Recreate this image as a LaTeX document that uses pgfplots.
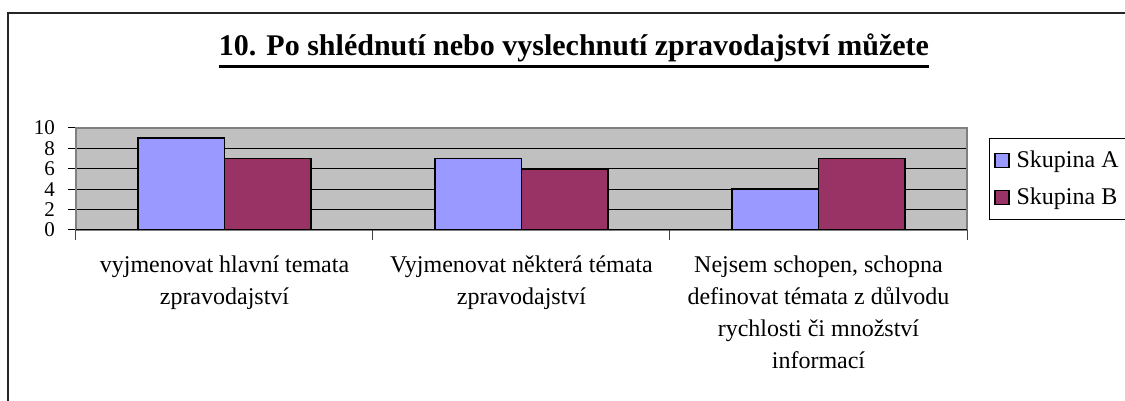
\documentclass[border=0pt]{standalone}
\usepackage{fontspec}
\setmainfont{Liberation Serif}
\usepackage{pgfplots}
\pgfplotsset{compat=1.18}
\definecolor{grpA}{HTML}{9999FF}
\definecolor{grpB}{HTML}{993366}
\definecolor{plotbg}{HTML}{C0C0C0}
\definecolor{boxgray}{HTML}{808080}

\begin{document}
\begin{tikzpicture}
\path[use as bounding box] (0,0) rectangle (562.5pt,200.5pt);
% outer chart frame (cut off at right and bottom)
\draw[line width=0.6pt,black!85] (4pt,-2pt) -- (4pt,194pt) -- (565pt,194pt);
\node[font=\fontsize{15}{17}\selectfont\bfseries,anchor=base,inner sep=0pt] (ttl)
  at (287pt,172.5pt) {10. Po shlédnutí nebo vyslechnutí zpravodajství můžete};
\draw[line width=1.5pt] ([yshift=-5.5pt]ttl.base west) -- ([yshift=-5.5pt]ttl.base east);

\begin{axis}[
  at={(38pt,85.5pt)},anchor=south west,
  scale only axis,width=445.5pt,height=51pt,
  xmin=-0.5,xmax=2.5,ymin=0,ymax=10,
  axis background/.style={fill=plotbg},
  axis line style={boxgray,line width=0.8pt},
  ybar,bar width=0.29,
  ytick={0,2,...,10},
  ymajorgrids,major grid style={black,line width=0.5pt},
  tick align=outside,major tick length=4pt,
  ytick pos=left,xtick pos=bottom,
  ytick style={black,line width=0.5pt},
  xtick={0,1,2},xtick style={draw=none},
  xticklabels={{vyjmenovat hlavní temata\\zpravodajství},
               {Vyjmenovat některá témata\\zpravodajství},
               {Nejsem schopen, schopna\\definovat témata z důlvodu\\rychlosti či množství\\informací}},
  xticklabel style={align=center,font=\fontsize{12}{16}\selectfont,yshift=-5.5pt},
  extra x ticks={-0.5,0.5,1.5,2.5},extra x tick labels={},
  extra x tick style={major tick length=5pt,xtick style={draw=black!75,line width=0.5pt}},
  yticklabel style={font=\fontsize{10.5}{10.5}\selectfont,xshift=-3pt},
  /pgf/number format/assume math mode=true,
  legend style={at={(1.0247,0.902)},anchor=north west,draw=black,fill=white,
    font=\fontsize{12}{13}\selectfont,inner ysep=4pt,inner xsep=2.5pt,
    column sep=1.5pt,row sep=5pt,legend cell align=left},
  legend image code/.code={\draw[#1,draw=black,line width=0.6pt] (0pt,-3.5pt) rectangle (7pt,3.5pt);},
]
\addplot[fill=grpA,draw=black,line width=0.9pt,bar shift=-0.145] coordinates {(0,9) (1,7) (2,4)};
\addplot[fill=grpB,draw=black,line width=0.9pt,bar shift=0.145] coordinates {(0,7) (1,6) (2,7)};
\legend{Skupina A\hspace*{18pt},Skupina B\hspace*{18pt}}
\draw[black,line width=0.6pt] (axis cs:-0.5,0) -- (axis cs:2.5,0);
\end{axis}
\end{tikzpicture}
\end{document}
